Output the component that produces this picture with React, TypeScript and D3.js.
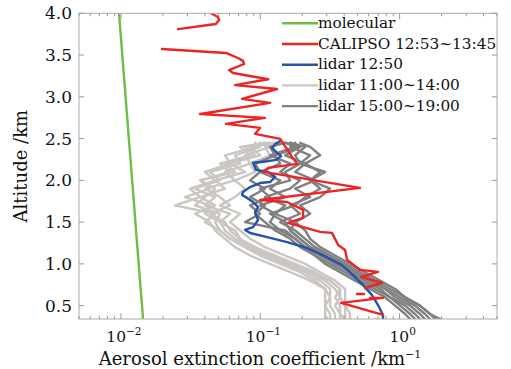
import React from "react";
import * as d3 from "d3";

// ---------------- data ----------------
const molAlt = [0.34, 0.5, 0.75, 1.0, 1.25, 1.5, 1.75, 2.0, 2.25, 2.5, 2.75, 3.0, 3.25, 3.5, 3.75, 4.0];
const molExt = [0.0144, 0.01417, 0.01377, 0.01342, 0.01304, 0.0127, 0.01237, 0.01203, 0.01171, 0.01139, 0.01109, 0.0108, 0.0105, 0.01023, 0.00995, 0.00969];

// CALIPSO (null = missing value, gap in line)
const calAlt = [4.0, 3.956, 3.92, 3.872, 3.81, 3.7,
  3.572, 3.525, 3.465, 3.43, 3.393, 3.32, 3.285, 3.21, 3.14, 3.094, 2.975, 2.927, 2.795, 2.748, 2.676, 2.628, 2.556, 2.496,
  2.281, 2.197, 2.149, 2.101, 1.91, 1.765, 1.741, 1.646, 1.55, 1.49, 1.383, 1.371, 1.227, 1.167, 1.048, 0.928, 0.904, 0.844,
  0.772, 0.712, 0.68, 0.64, 0.64, 0.62, 0.593, 0.593, 0.533, 0.39];
const calExt = [0.0443, 0.0497, 0.0506, 0.048, 0.0257, null,
  0.0197, 0.0568, 0.0692, 0.0752, 0.0765, 0.0597, 0.0638, 0.114, 0.0659, 0.132, 0.074, 0.1175, 0.037, 0.108, 0.0568, 0.0996, 0.0917, 0.139,
  0.169, 0.184, 0.114, 0.106, 0.52, 0.0996, 0.156, 0.203, 0.203, 0.158, 0.269, 0.327, 0.362, 0.406, 0.42, 0.52, 0.70, 0.53,
  0.748, 0.565, null, 0.495, 0.556, null, 0.614, 0.76, 0.38, 0.76];

// lidar 12:50
const blueAlt = [2.471, 2.436, 2.388, 2.34, 2.29, 2.245, 2.22, 2.21, 2.126, 2.10, 2.04, 1.98, 1.968, 1.92, 1.86, 1.825, 1.79, 1.741,
  1.68, 1.62, 1.525, 1.44, 1.406, 1.37, 1.32, 1.26, 1.19, 1.08, 0.985, 0.865, 0.746, 0.626, 0.507, 0.388, 0.34];
const blueExt = [0.139, 0.128, 0.1215, 0.13, 0.141, 0.13, 0.103, 0.0888, 0.0932, 0.114, 0.128, 0.1175, 0.0996, 0.0845, 0.0752, 0.074,
  0.0804, 0.0888, 0.0964, 0.0917, 0.0964, 0.0888, 0.0778, 0.0845, 0.112, 0.156, 0.217, 0.30, 0.386, 0.464, 0.547, 0.634, 0.70, 0.76, 0.76];

// shared altitude grid for the multi-profile lidar groups
const lidarAlt = [0.34, 0.4, 0.5, 0.6, 0.7, 0.8, 0.9, 1.0, 1.1, 1.2, 1.3, 1.4, 1.5, 1.6, 1.7, 1.8, 1.9, 2.0, 2.1, 2.2, 2.3, 2.4, 2.45];

// lidar 11:00~14:00
const lidarNoon = [
  [0.317, 0.317, 0.292, 0.292, 0.292, 0.247, 0.193, 0.139, 0.0996, 0.0778, 0.0607, 0.0514, 0.0401, 0.0474, 0.0244, 0.037, 0.0313, 0.0474, 0.0401, 0.0607, 0.0558, 0.0917, 0.108],
  [0.374, 0.374, 0.344, 0.374, 0.344, 0.292, 0.228, 0.164, 0.1175, 0.0845, 0.0659, 0.0558, 0.0514, 0.0401, 0.0436, 0.0288, 0.0436, 0.037, 0.0607, 0.0514, 0.0845, 0.0716, 0.1175],
  [0.406, 0.406, 0.406, 0.374, 0.374, 0.317, 0.247, 0.178, 0.128, 0.0917, 0.0716, 0.0659, 0.0514, 0.0607, 0.0401, 0.0474, 0.034, 0.0514, 0.0436, 0.0716, 0.0659, 0.0996, 0.0917],
  [0.292, 0.292, 0.292, 0.317, 0.292, 0.228, 0.164, 0.1175, 0.0845, 0.0659, 0.0558, 0.0474, 0.0436, 0.034, 0.0474, 0.037, 0.0558, 0.0474, 0.0778, 0.0607, 0.0996, 0.0845, 0.128],
  [0.441, 0.441, 0.406, 0.406, 0.406, 0.344, 0.269, 0.21, 0.151, 0.108, 0.0845, 0.0716, 0.0607, 0.0716, 0.0514, 0.0659, 0.0778, 0.0659, 0.0917, 0.0845, 0.1175, 0.108, 0.139],
  [0.344, 0.344, 0.317, 0.317, 0.317, 0.269, 0.21, 0.151, 0.108, 0.0845, 0.0716, 0.0607, 0.0558, 0.0436, 0.0607, 0.0514, 0.0401, 0.0659, 0.0558, 0.0845, 0.0778, 0.1175, 0.0996],
  [0.406, 0.374, 0.374, 0.344, 0.374, 0.317, 0.228, 0.164, 0.108, 0.0778, 0.0607, 0.0514, 0.0474, 0.0514, 0.034, 0.0401, 0.0474, 0.037, 0.0659, 0.0558, 0.0917, 0.0778, 0.108],
];

// lidar 15:00~19:00
const lidarEvening = [
  [1.95, 1.655, 1.40, 1.095, 0.854, 0.667, 0.52, 0.406, 0.317, 0.247, 0.21, 0.178, 0.139, 0.193, 0.164, 0.228, 0.178, 0.247, 0.178, 0.21, 0.151, 0.193, 0.164],
  [1.655, 1.52, 1.29, 1.008, 0.786, 0.614, 0.479, 0.374, 0.292, 0.228, 0.193, 0.164, 0.151, 0.1175, 0.178, 0.21, 0.269, 0.228, 0.292, 0.193, 0.228, 0.164, 0.178],
  [1.40, 1.29, 1.095, 0.854, 0.724, 0.565, 0.441, 0.344, 0.269, 0.21, 0.178, 0.139, 0.1175, 0.128, 0.0996, 0.151, 0.1175, 0.139, 0.0996, 0.139, 0.128, 0.193, 0.151],
  [1.80, 1.655, 1.40, 1.095, 0.928, 0.724, 0.565, 0.441, 0.344, 0.269, 0.228, 0.21, 0.178, 0.228, 0.193, 0.269, 0.317, 0.228, 0.269, 0.21, 0.269, 0.228, 0.193],
  [1.19, 1.095, 0.928, 0.786, 0.614, 0.479, 0.374, 0.292, 0.247, 0.193, 0.164, 0.128, 0.108, 0.0917, 0.108, 0.0845, 0.108, 0.0845, 0.0996, 0.0917, 0.128, 0.1175, 0.151],
  [1.52, 1.40, 1.19, 0.928, 0.786, 0.614, 0.479, 0.374, 0.292, 0.228, 0.193, 0.164, 0.178, 0.128, 0.151, 0.108, 0.164, 0.193, 0.139, 0.164, 0.1175, 0.178, 0.151],
  [1.29, 1.19, 1.008, 0.854, 0.667, 0.52, 0.406, 0.317, 0.247, 0.21, 0.178, 0.151, 0.0778, 0.0996, 0.0845, 0.1175, 0.0996, 0.164, 0.151, 0.193, 0.178, 0.21, 0.164],
];

const yTicks = [0.5, 1.0, 1.5, 2.0, 2.5, 3.0, 3.5, 4.0];
const xMajor = [0.01, 0.1, 1];
const xMajorExp = ["−2", "−1", "0"];

const legendItems = [
  { label: "molecular", color: "#6cbf40" },
  { label: "CALIPSO 12:53~13:45", color: "#ee2424" },
  { label: "lidar 12:50", color: "#2553a8" },
  { label: "lidar 11:00~14:00", color: "#cac6c2" },
  { label: "lidar 15:00~19:00", color: "#808080" },
];

// ---------------- chart ----------------
const W = 511, H = 369;
const L = 79, R = 497, T = 13.3, B = 319;
const FONT = "'DejaVu Serif', serif";

export default function App() {
  const x = d3.scaleLog().domain([0.005, 5]).range([L, R]);
  const y = d3.scaleLinear().domain([0.34, 4]).range([B, T]);

  const line = d3.line<[number, number | null]>()
    .defined((d) => d[1] != null)
    .x((d) => x(d[1] as number))
    .y((d) => y(d[0]));

  const pairs = (alt: number[], ext: (number | null)[]) => alt.map((a, i) => [a, ext[i]] as [number, number | null]);

  const allX = x.ticks();
  const isMajor = (v: number) => Math.abs(Math.log10(v) - Math.round(Math.log10(v))) < 1e-6;

  return (
    <svg width={W} height={H} style={{ position: "absolute", left: 0, top: 0, background: "#fff" }} fontFamily={FONT}>
      <defs>
        <clipPath id="plot"><rect x={L} y={T} width={R - L} height={B - T} /></clipPath>
      </defs>
      <rect x={0} y={0} width={W} height={H} fill="#fff" />
      <g clipPath="url(#plot)" fill="none" strokeLinejoin="round" strokeLinecap="round">
        {lidarNoon.map((p, i) => (
          <path key={"n" + i} d={line(pairs(lidarAlt, p)) || ""} stroke="#cac6c2" strokeWidth={2.4} />
        ))}
        {lidarEvening.map((p, i) => (
          <path key={"e" + i} d={line(pairs(lidarAlt, p)) || ""} stroke="#808080" strokeWidth={2.4} />
        ))}
        <path d={line(pairs(blueAlt, blueExt)) || ""} stroke="#2553a8" strokeWidth={2.4} />
        <path d={line(pairs(calAlt, calExt)) || ""} stroke="#ee2424" strokeWidth={2.4} />
        <path d={line(pairs(molAlt, molExt)) || ""} stroke="#6cbf40" strokeWidth={2.4} />
      </g>
      {/* frame */}
      <rect x={L} y={T} width={R - L} height={B - T} fill="none" stroke="#aaa" strokeWidth={1} />
      {/* x ticks */}
      {allX.map((v, i) => {
        const len = isMajor(v) ? 6 : 3;
        return (
          <g key={"xt" + i} stroke="#999" strokeWidth={1}>
            <line x1={x(v)} x2={x(v)} y1={B} y2={B - len} />
            <line x1={x(v)} x2={x(v)} y1={T} y2={T + len} />
          </g>
        );
      })}
      {/* y ticks */}
      {yTicks.map((v, i) => (
        <g key={"yt" + i} stroke="#999" strokeWidth={1}>
          <line x1={L} x2={L + 5} y1={y(v)} y2={y(v)} />
          <line x1={R} x2={R - 5} y1={y(v)} y2={y(v)} />
        </g>
      ))}
      {yTicks.map((v, i) => (
        <text key={"yl" + i} x={72} y={y(v)} dy="0.36em" textAnchor="end" fontSize={17} fill="#111">
          {v.toFixed(1)}
        </text>
      ))}
      {xMajor.map((v, i) => (
        <text key={"xl" + i} x={x(v) + 3} y={342} textAnchor="middle" fontSize={15.5} fill="#111">
          10<tspan dy={-7} fontSize={10.5}>{xMajorExp[i]}</tspan>
        </text>
      ))}
      <text x={260} y={365} textAnchor="middle" fontSize={18} fill="#111">
        Aerosol extinction coefficient /km<tspan dy={-7} fontSize={11}>−1</tspan>
      </text>
      <text transform={`translate(27,${(T + B) / 2}) rotate(-90)`} textAnchor="middle" fontSize={18} fill="#111">
        Altitude /km
      </text>
      {/* legend */}
      {legendItems.map((it, i) => {
        const ly = 23.3 + i * 20.7;
        return (
          <g key={"lg" + i}>
            <line x1={282} x2={318} y1={ly} y2={ly} stroke={it.color} strokeWidth={2.4} />
            <text x={318} y={ly + 4.5} fontSize={15.3} fill="#111">{it.label}</text>
          </g>
        );
      })}
    </svg>
  );
}
